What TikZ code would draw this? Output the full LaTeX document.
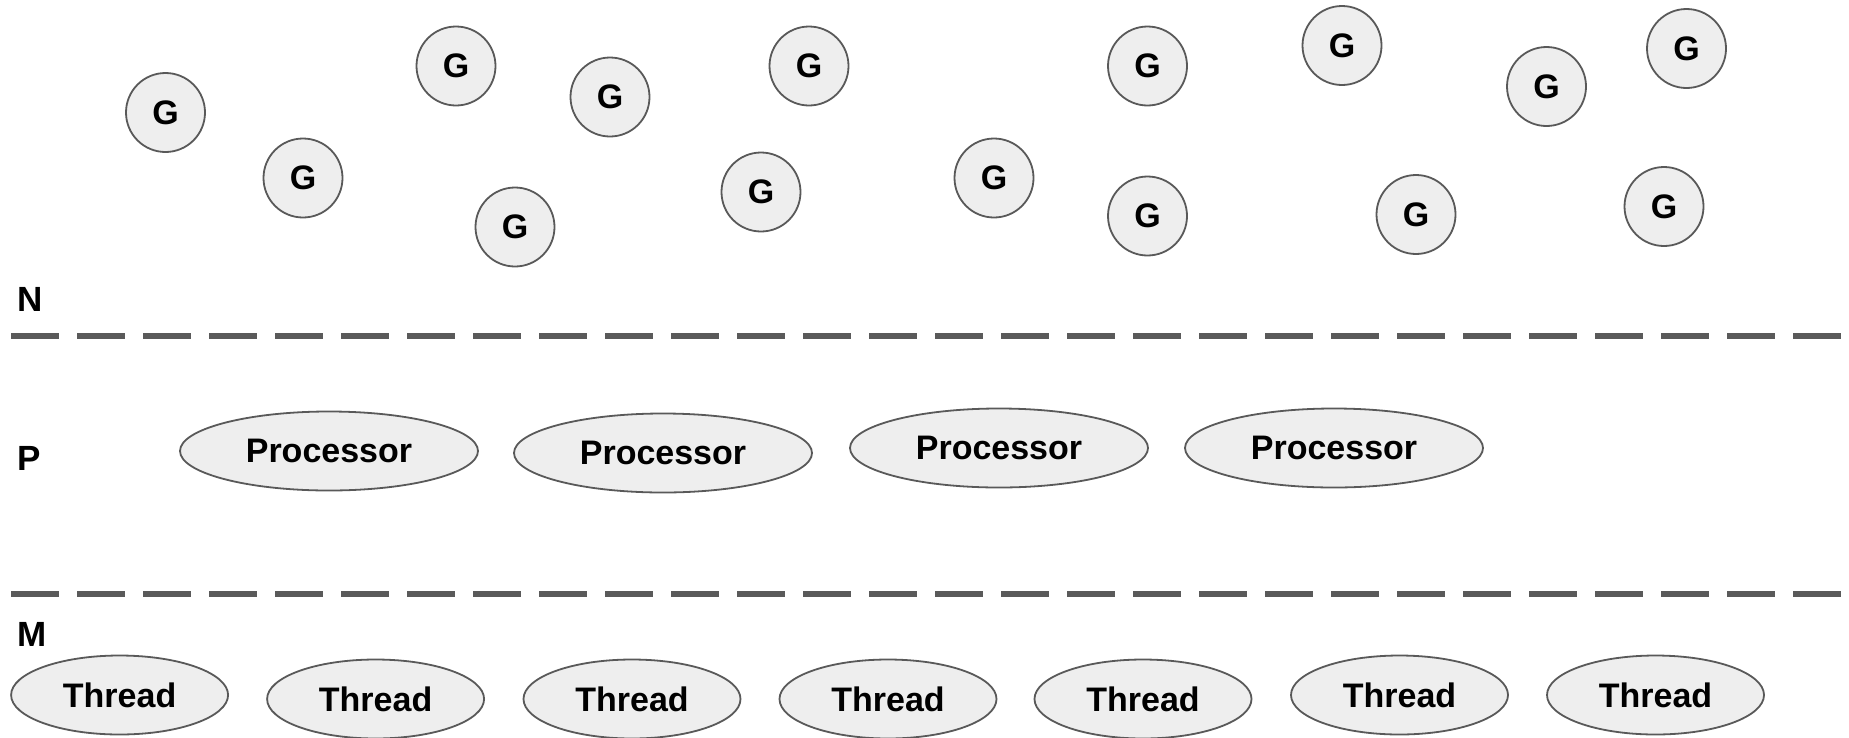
\documentclass[tikz,border=0pt]{standalone}
\usepackage{fontspec}
\setmainfont{Liberation Sans}
\usetikzlibrary{shapes.geometric}
\definecolor{shapefill}{HTML}{EEEEEE}
\definecolor{shapeline}{HTML}{595959}
\definecolor{dashline}{HTML}{5A5A5A}
\tikzset{
  gnode/.style={circle, draw=shapeline, fill=shapefill, line width=1.8pt, minimum size=79pt, inner sep=0pt,
    font=\fontsize{34}{40}\selectfont\bfseries},
  procnode/.style={ellipse, draw=shapeline, fill=shapefill, line width=1.8pt, minimum width=298pt, minimum height=79pt, inner sep=0pt,
    font=\fontsize{34}{40}\selectfont\bfseries},
  threadnode/.style={ellipse, draw=shapeline, fill=shapefill, line width=1.8pt, minimum width=217pt, minimum height=79pt, inner sep=0pt,
    font=\fontsize{34}{40}\selectfont\bfseries},
  layerlabel/.style={inner sep=0pt, font=\fontsize{35}{40}\selectfont\bfseries},
  divider/.style={draw=dashline, line width=6pt, dash pattern=on 48pt off 18pt}
}
\begin{document}
\begin{tikzpicture}[x=1pt,y=-1pt]
\useasboundingbox[fill=white] (0,0) rectangle (1849,737);
% goroutines
\node[gnode] (g1) at (165.5,112.5) {G};
\node[gnode] (g2) at (303,178) {G};
\node[gnode] (g3) at (456,66) {G};
\node[gnode] (g4) at (610,97) {G};
\node[gnode] (g5) at (515,227) {G};
\node[gnode] (g6) at (809,66) {G};
\node[gnode] (g7) at (761,192) {G};
\node[gnode] (g8) at (994,178) {G};
\node[gnode] (g9) at (1147.5,66) {G};
\node[gnode] (g10) at (1147.5,216) {G};
\node[gnode] (g11) at (1342,45.5) {G};
\node[gnode] (g12) at (1546.5,86.5) {G};
\node[gnode] (g13) at (1686.5,48.5) {G};
\node[gnode] (g14) at (1416,214.5) {G};
\node[gnode] (g15) at (1664,206.5) {G};
% layer labels
\node[layerlabel] (labN) at (30,299.5) {N};
\node[layerlabel] (labP) at (29.5,458.5) {P};
\node[layerlabel] (labM) at (32.5,634.5) {M};
% dividers
\coordinate (d1a) at (11,336.3);
\coordinate (d1b) at (1841,336.3);
\coordinate (d2a) at (11,593.7);
\coordinate (d2b) at (1841,593.7);
\draw[divider] (d1a) -- (d1b);
\draw[divider] (d2a) -- (d2b);
% processors
\node[procnode] (p1) at (329,451) {Processor};
\node[procnode] (p2) at (663,453) {Processor};
\node[procnode] (p3) at (999,448) {Processor};
\node[procnode] (p4) at (1334,448) {Processor};
% threads
\node[threadnode] (t1) at (119.6,695) {Thread};
\node[threadnode] (t2) at (375.6,699) {Thread};
\node[threadnode] (t3) at (632,699) {Thread};
\node[threadnode] (t4) at (888,699) {Thread};
\node[threadnode] (t5) at (1143,699) {Thread};
\node[threadnode] (t6) at (1399.5,695) {Thread};
\node[threadnode] (t7) at (1655.5,695) {Thread};
\end{tikzpicture}
\end{document}
